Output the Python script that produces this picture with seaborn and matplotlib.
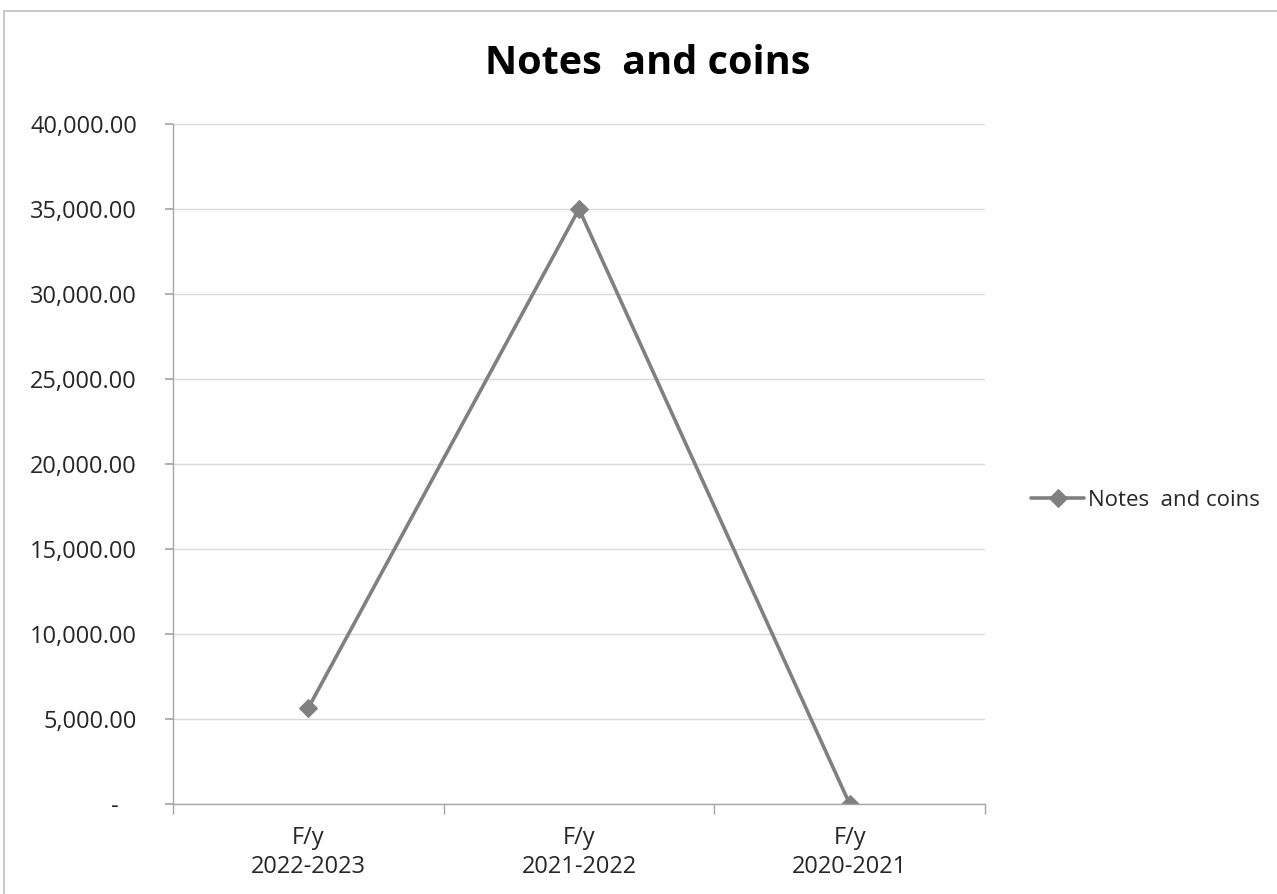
import matplotlib
matplotlib.use("Agg")
import matplotlib.pyplot as plt
import seaborn as sns
import pandas as pd
from matplotlib.patches import Rectangle
from matplotlib.ticker import FixedLocator

categories = ["F/y\n2022-2023", "F/y\n2021-2022", "F/y\n2020-2021"]
values = [5650, 35000, 0]
series_name = "Notes  and coins"
y_ticks = [0, 5000, 10000, 15000, 20000, 25000, 30000, 35000, 40000]

sns.set_theme(style="white")
plt.rcParams["font.family"] = ["Open Sans", "DejaVu Sans"]

df = pd.DataFrame({"period": categories, "amount": values, "series": series_name})

fig = plt.figure(figsize=(12.77, 8.94), dpi=100)
ax = fig.add_axes([173 / 1277, 1 - 804 / 894, (985 - 173) / 1277, (804 - 124) / 894])

sns.lineplot(data=df, x="period", y="amount", hue="series", palette=["#808080"],
             marker="D", markersize=9, markeredgecolor="#808080", linewidth=2.6,
             ax=ax, sort=False)

ax.set_xlim(-0.5, len(categories) - 0.5)
ax.set_ylim(0, 40000)
ax.set_yticks(y_ticks)
ax.set_yticklabels([f"{v:,.2f}" if v else "-   " for v in y_ticks])
ax.grid(axis="y", color="#d9d9d9", linewidth=1)
ax.set_axisbelow(True)
ax.set_xlabel("")
ax.set_ylabel("")

for side in ("top", "right"):
    ax.spines[side].set_visible(False)
for side in ("left", "bottom"):
    ax.spines[side].set_color("#a6a6a6")
    ax.spines[side].set_linewidth(1)

ax.tick_params(axis="y", which="major", length=6, color="#a6a6a6", direction="out",
               labelsize=17, labelcolor="#262626", pad=20, left=True)
ax.tick_params(axis="x", which="major", length=0, labelsize=17, labelcolor="#262626", pad=16)
ax.xaxis.set_minor_locator(FixedLocator([i - 0.5 for i in range(len(categories) + 1)]))
ax.tick_params(axis="x", which="minor", length=7, color="#a6a6a6", direction="out", bottom=True)
for lbl in ax.get_xticklabels():
    lbl.set_linespacing(1.25)

fig.suptitle("Notes  and coins", x=648 / 1277, y=1 - 44 / 894,
             fontsize=28.5, fontweight="bold", color="#000000", va="top")

leg = ax.legend(loc="center left", bbox_to_anchor=(1022 / 1277, 1 - 500 / 894),
                bbox_transform=fig.transFigure, frameon=False, fontsize=16,
                handlelength=2.4, handletextpad=0.15, borderaxespad=0)
for t in leg.get_texts():
    t.set_color("#262626")

fig.patches.append(Rectangle((4 / 1277, -0.01), 1.02, 1 - 11 / 894 + 0.01,
                             transform=fig.transFigure, fill=False,
                             edgecolor="#bfbfbf", linewidth=1.2))

fig.savefig("out.png", dpi=100, facecolor="white")
